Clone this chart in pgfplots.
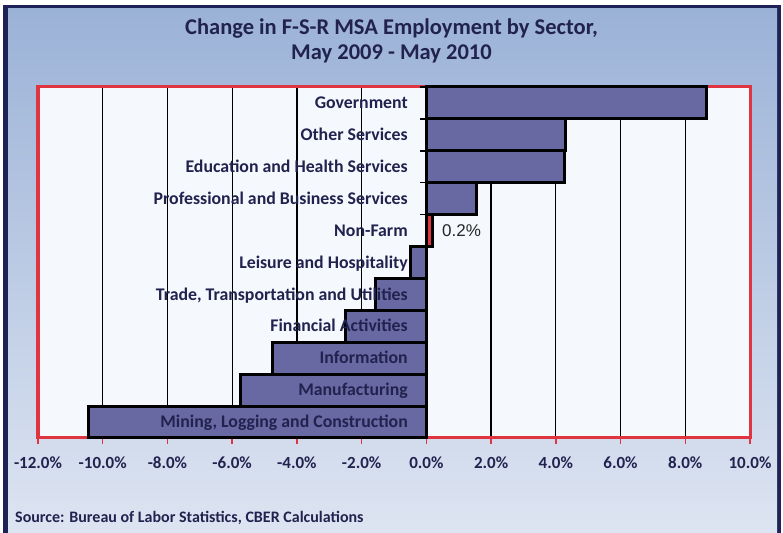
\documentclass[border=0pt]{standalone}
\usepackage{fontspec}
\setmainfont{Carlito}
\newfontfamily\arialfont{Liberation Sans}
\usepackage{pgfplots}
\pgfplotsset{compat=1.18}
\definecolor{frame}{HTML}{1E2257}
\definecolor{txt}{HTML}{22224F}
\definecolor{bgtop}{HTML}{9BB2D7}
\definecolor{bgbot}{HTML}{DEE5F2}
\definecolor{plotbg}{HTML}{F5F8FC}
\definecolor{framered}{HTML}{DE3540}
\definecolor{barblue}{HTML}{6869A3}
\definecolor{barred}{HTML}{E0353C}

\newcommand{\cat}[2]{%
  \node[anchor=base east, inner sep=0pt, xshift=-18.4bp, yshift=-5.6bp, text=txt,
    font=\fontsize{17.8bp}{20bp}\selectfont\bfseries] at (axis cs:0,#1) {#2};}

\begin{document}
\begin{tikzpicture}
\useasboundingbox (0,0) rectangle (783bp,533bp);
\begin{scope}[x=1bp,y=1bp]
\fill[white] (0,0) rectangle (783,533);
\begin{scope}
  \clip (0,0) rectangle (783,533);
  \fill[frame] (3,-5) rectangle (781,528);
  \shade[top color=bgtop, bottom color=bgbot] (8,-5) rectangle (777,524);
\end{scope}
\node[txt, anchor=base, font=\fontsize{22.5bp}{25bp}\selectfont\bfseries] at (391.5,498.3)
  {Change in F-S-R MSA Employment by Sector,};
\node[txt, anchor=base, font=\fontsize{22.5bp}{25bp}\selectfont\bfseries] at (391.5,473)
  {May 2009 - May 2010};
\node[txt, anchor=base west, inner sep=0pt, font=\fontsize{16bp}{18bp}\selectfont\bfseries]
  at (15,11) {Source: Bureau of Labor Statistics, CBER Calculations};
\end{scope}

\begin{axis}[
  at={(38bp,95bp)}, anchor=south west,
  width=712bp, height=351bp, scale only axis,
  xmin=-12, xmax=10, ymin=-0.5, ymax=10.5,
  axis background/.style={fill=plotbg},
  axis line style={draw=framered, line width=3bp},
  xtick={-12,-10,...,10},
  xticklabels={-12.0\%,-10.0\%,-8.0\%,-6.0\%,-4.0\%,-2.0\%,0.0\%,2.0\%,4.0\%,6.0\%,8.0\%,10.0\%},
  xtick pos=left,
  tick align=outside,
  xtick style={draw=framered, line width=1.5bp},
  major tick length=6bp,
  xmajorgrids,
  major grid style={black, line width=1.3bp},
  xticklabel style={font=\fontsize{17bp}{20bp}\selectfont\bfseries, text=txt, yshift=-9bp},
  ytick=\empty,
  clip=false,
]
\addplot[xbar, bar width=1, bar shift=0pt, fill=barblue, draw=black, line width=3bp]
  coordinates {(-10.45,0) (-5.75,1) (-4.75,2) (-2.5,3) (-1.57,4) (-0.49,5)
               (1.55,7) (4.26,8) (4.29,9) (8.65,10)};
\addplot[xbar, bar width=1, bar shift=0pt, fill=barred, draw=black, line width=3bp,
  point meta=x,
  nodes near coords={\pgfmathprintnumber[fixed,precision=1,assume math mode=true]{\pgfplotspointmeta}\%},
  nodes near coords align={horizontal},
  every node near coord/.append style={font=\arialfont\fontsize{17bp}{20bp}\selectfont,
    text=black!85, xshift=4.5bp}]
  coordinates {(0.2,6)};
\draw[black, line width=3bp] (axis cs:0,-0.5) -- (axis cs:0,10.5);
\pgfplotsinvokeforeach{-0.5,0.5,1.5,2.5,3.5,4.5,5.5,6.5,7.5,8.5,9.5,10.5}{
  \draw[black, line width=1.5bp] (axis cs:0,#1) -- ([xshift=-6bp]axis cs:0,#1);
}
\cat{10}{Government}
\cat{9}{Other Services}
\cat{8}{Education and Health Services}
\cat{7}{Professional and Business Services}
\cat{6}{Non-Farm}
\cat{5}{Leisure and Hospitality}
\cat{4}{Trade, Transportation and Utilities}
\cat{3}{Financial Activities}
\cat{2}{Information}
\cat{1}{Manufacturing}
\cat{0}{Mining, Logging and Construction}
\end{axis}
\end{tikzpicture}
\end{document}
